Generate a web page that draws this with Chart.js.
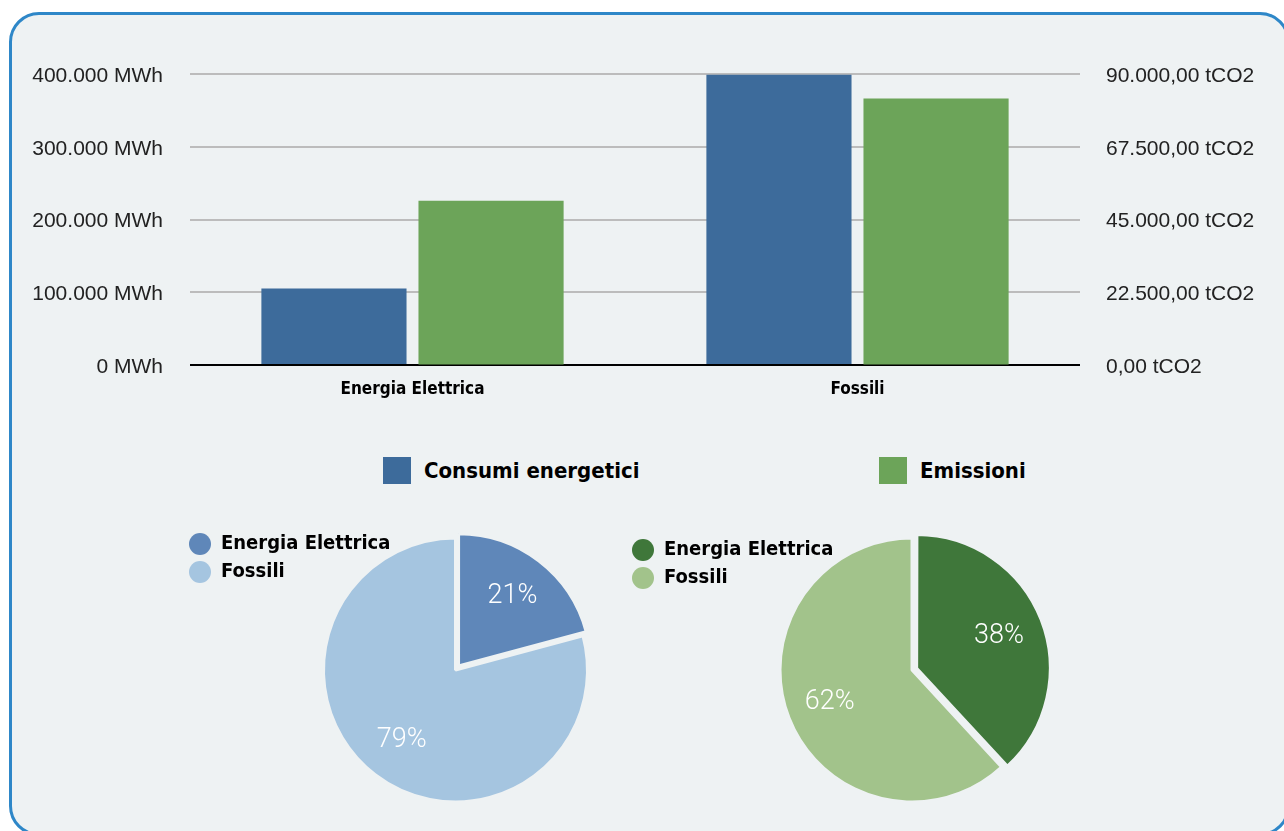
<!DOCTYPE html>
<html>
<head>
<meta charset="utf-8">
<title>Consumi ed emissioni</title>
<script src="https://cdn.jsdelivr.net/npm/chart.js@4.4.1/dist/chart.umd.min.js"></script>
<style>
  html, body { margin: 0; padding: 0; background: #fff; width: 1284px; height: 831px; overflow: hidden; }
  .card { position: absolute; left: 9px; top: 12px; width: 1281px; height: 824px; box-sizing: border-box;
          border: 3px solid #2e87c8; border-radius: 30px; background: #eef2f3; }
  .box { position: absolute; }
  #barBox { left: 0; top: 0; }
  #pieBox1 { left: 181px; top: 526px; }
  #pieBox2 { left: 624px; top: 532px; }
  #barLegend { position: absolute; left: 383px; top: 457px; display: flex; }
  #barLegend .item { width: 496px; display: flex; align-items: center; }
  #barLegend .swatch { width: 28px; height: 27px; margin-right: 13px; }
  #barLegend .label { font: bold 22px 'Liberation Sans Narrow', 'DejaVu Sans Condensed', 'Roboto Condensed', sans-serif; color: #000; }
</style>
</head>
<body>
<div class="card"></div>
<div class="box" id="barBox"><canvas id="barChart" width="1284" height="420"></canvas></div>
<div id="barLegend"></div>
<div class="box" id="pieBox1"><canvas id="pieConsumi" width="549" height="288"></canvas></div>
<div class="box" id="pieBox2"><canvas id="pieEmissioni" width="576" height="276"></canvas></div>
<script>
// data
const categories = ['Energia Elettrica', 'Fossili'];
const seriesNames = ['Consumi energetici', 'Emissioni'];
const consumiMWh = [105000, 399000];
const emissioniTCO2 = [50800, 82400];
const mwhTicks = [0, 100000, 200000, 300000, 400000];
const tco2Ticks = [0, 22500, 45000, 67500, 90000];

const narrowFont = "'Liberation Sans Narrow', 'DejaVu Sans Condensed', 'Roboto Condensed', sans-serif";
const tickFont = "'Liberation Sans', Arial, sans-serif";

function groupThousands(s) {
    return s.replace(/\B(?=(\d{3})+(?!\d))/g, '.');
}
function fmtMWh(v) {
    return groupThousands(String(Math.round(v))) + ' MWh';
}
function fmtTCO2(v) {
    const parts = v.toFixed(2).split('.');
    return groupThousands(parts[0]) + ',' + parts[1] + ' tCO2';
}

Chart.defaults.animation = false;

// Bar chart
const barChart = new Chart(document.getElementById('barChart'), {
    type: 'bar',
    data: {
        labels: categories,
        datasets: [
            {
                label: seriesNames[0],
                data: consumiMWh,
                backgroundColor: '#3d6b9b',
                yAxisID: 'y',
                categoryPercentage: 0.706,
                barPercentage: 0.924
            },
            {
                label: seriesNames[1],
                data: emissioniTCO2,
                backgroundColor: '#6ca459',
                yAxisID: 'y1',
                categoryPercentage: 0.706,
                barPercentage: 0.924
            }
        ]
    },
    options: {
        responsive: false,
        layout: { padding: { top: 74, left: 0, right: 0, bottom: 0 } },
        plugins: {
            legend: { display: false },
            tooltip: { enabled: false }
        },
        scales: {
            x: {
                grid: { display: false, drawTicks: false },
                border: { display: false },
                ticks: {
                    color: '#000',
                    padding: 14,
                    font: { family: narrowFont, size: 17, weight: 'bold' }
                },
                afterFit: (scale) => { scale.height = 55; }
            },
            y: {
                position: 'left',
                min: mwhTicks[0],
                max: mwhTicks[mwhTicks.length - 1],
                border: { display: false },
                grid: {
                    drawTicks: false,
                    lineWidth: 2,
                    color: (ctx) => ctx.tick && ctx.tick.value === 0 ? '#000' : '#bcbcbc'
                },
                ticks: {
                    stepSize: mwhTicks[1] - mwhTicks[0],
                    padding: 27,
                    labelOffset: 2,
                    color: '#222',
                    font: { family: tickFont, size: 21 },
                    callback: (v) => fmtMWh(v)
                },
                afterFit: (scale) => { scale.width = 190; }
            },
            y1: {
                position: 'right',
                min: tco2Ticks[0],
                max: tco2Ticks[tco2Ticks.length - 1],
                border: { display: false },
                grid: { drawOnChartArea: false, drawTicks: false },
                ticks: {
                    stepSize: tco2Ticks[1] - tco2Ticks[0],
                    padding: 26,
                    labelOffset: 2,
                    color: '#222',
                    font: { family: tickFont, size: 21 },
                    callback: (v) => fmtTCO2(v)
                },
                afterFit: (scale) => { scale.width = 204; }
            }
        }
    }
});

// HTML legend for the bar chart, built from the chart's own legend items
const legendEl = document.getElementById('barLegend');
barChart.options.plugins.legend.labels.generateLabels(barChart).forEach((item) => {
    const el = document.createElement('div');
    el.className = 'item';
    const sw = document.createElement('span');
    sw.className = 'swatch';
    sw.style.background = item.fillStyle;
    const tx = document.createElement('span');
    tx.className = 'label';
    tx.textContent = item.text;
    el.appendChild(sw);
    el.appendChild(tx);
    legendEl.appendChild(el);
});

// Percentage labels inside the pie slices
const pieLabels = {
    id: 'pieLabels',
    afterDatasetsDraw(chart) {
        const ctx = chart.ctx;
        const meta = chart.getDatasetMeta(0);
        const values = chart.data.datasets[0].data;
        const total = values.reduce((a, b) => a + b, 0);
        ctx.save();
        ctx.fillStyle = '#fff';
        ctx.font = "300 27px Roboto, 'Liberation Sans', sans-serif";
        ctx.textAlign = 'center';
        ctx.textBaseline = 'middle';
        meta.data.forEach((arc, i) => {
            const p = arc.getProps(['x', 'y', 'startAngle', 'endAngle', 'outerRadius']);
            const mid = (p.startAngle + p.endAngle) / 2;
            // chart.js moves an offset slice by offset / 4
            const r = p.outerRadius * 0.67 + (arc.options.offset || 0) / 4;
            const pct = Math.round(values[i] / total * 100) + '%';
            ctx.fillText(pct, p.x + Math.cos(mid) * r, p.y + Math.sin(mid) * r);
        });
        ctx.restore();
    }
};

function makePie(canvasId, values, colors) {
    return new Chart(document.getElementById(canvasId), {
        type: 'pie',
        data: {
            labels: categories,
            datasets: [{
                data: values,
                backgroundColor: colors,
                borderColor: '#eef2f3',
                borderWidth: 3,
                offset: [20, 0],
                radius: 132
            }]
        },
        options: {
            responsive: false,
            layout: { padding: 0 },
            plugins: {
                tooltip: { enabled: false },
                legend: {
                    position: 'chartArea',
                    align: 'start',
                    labels: {
                        usePointStyle: true,
                        pointStyle: 'circle',
                        pointStyleWidth: 22,
                        boxHeight: 15.6,
                        padding: 8,
                        color: '#000',
                        font: { family: narrowFont, size: 20, weight: 'bold' },
                        generateLabels: (chart) => {
                            const base = Chart.overrides.pie.plugins.legend.labels.generateLabels(chart);
                            return base.map((it) => Object.assign(it, { lineWidth: 0, strokeStyle: it.fillStyle }));
                        }
                    }
                }
            }
        },
        plugins: [pieLabels]
    });
}

makePie('pieConsumi', consumiMWh, ['#5f87b9', '#a5c5e0']);
makePie('pieEmissioni', emissioniTCO2, ['#3f773a', '#a2c38b']);
</script>
</body>
</html>
